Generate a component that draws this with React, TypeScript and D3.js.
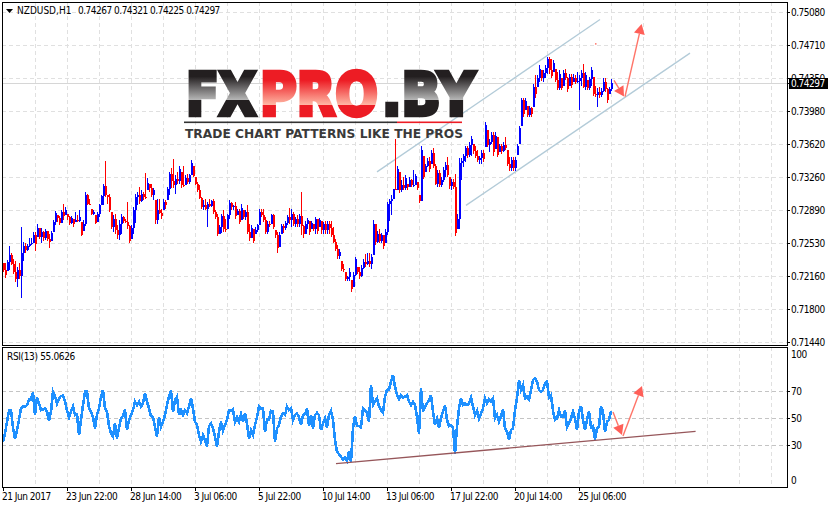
import React from 'react';
import * as d3 from 'd3';

// hourly bars, prices in 1/10000
const highs = [
  7232,7231,7235,7250,7243,7236,7234,7227,7232,7271,
  7255,7253,7252,7259,7259,7266,7266,7274,7270,7270,
  7267,7269,7267,7263,7267,7279,7289,7284,7283,7290,
  7296,7293,7285,7283,7283,7280,7288,7284,7290,7277,
  7279,7310,7308,7302,7291,7290,7284,7288,7297,7307,
  7319,7344,7306,7308,7288,7284,7286,7273,7279,7285,
  7283,7280,7299,7273,7273,7293,7308,7310,7315,7312,
  7310,7331,7325,7319,7319,7314,7301,7302,7302,7291,
  7302,7301,7315,7332,7336,7346,7328,7332,7339,7332,
  7338,7328,7330,7330,7345,7338,7326,7321,7317,7304,
  7301,7302,7299,7302,7301,7302,7290,7286,7273,7285,
  7290,7280,7286,7301,7299,7295,7299,7291,7291,7296,
  7290,7290,7295,7275,7273,7269,7271,7275,7291,7291,
  7291,7282,7278,7278,7286,7286,7268,7266,7266,7275,
  7274,7278,7284,7292,7291,7288,7282,7284,7285,7310,
  7273,7278,7281,7278,7278,7275,7282,7280,7281,7278,
  7277,7278,7278,7278,7278,7271,7258,7251,7247,7234,
  7230,7221,7217,7226,7213,7221,7238,7227,7227,7229,
  7236,7241,7243,7243,7241,7279,7275,7267,7269,7265,
  7262,7269,7299,7302,7306,7313,7368,7339,7332,7323,
  7326,7328,7319,7326,7324,7334,7330,7321,7306,7361,
  7350,7341,7347,7348,7356,7358,7341,7334,7334,7326,
  7337,7343,7348,7326,7324,7324,7330,7286,7347,7347,
  7352,7361,7361,7365,7372,7363,7360,7356,7350,7356,
  7356,7387,7378,7368,7376,7376,7376,7371,7363,7363,
  7365,7371,7356,7348,7348,7348,7348,7363,7383,7414,
  7414,7414,7405,7405,7404,7429,7439,7439,7450,7444,
  7444,7450,7459,7459,7457,7455,7446,7442,7444,7435,
  7444,7445,7437,7440,7440,7440,7439,7442,7439,7444,
  7451,7442,7433,7437,7448,7437,7427,7424,7426,7424,
  7435,7435,7424,7426,7434,
];
const lows = [
  7221,7215,7223,7224,7229,7219,7210,7205,7214,7193,
  7234,7243,7245,7249,7251,7253,7245,7260,7258,7253,
  7256,7257,7256,7248,7256,7266,7273,7277,7273,7276,
  7279,7284,7279,7273,7275,7271,7277,7277,7277,7261,
  7267,7272,7295,7295,7284,7284,7274,7277,7282,7295,
  7295,7304,7296,7288,7269,7266,7264,7258,7257,7264,
  7276,7276,7269,7253,7258,7264,7276,7295,7297,7299,
  7301,7302,7312,7310,7304,7301,7275,7275,7286,7280,
  7290,7291,7301,7306,7314,7314,7308,7319,7319,7314,
  7315,7317,7319,7319,7328,7326,7317,7310,7302,7291,
  7290,7290,7271,7293,7293,7286,7280,7261,7264,7265,
  7266,7266,7269,7280,7290,7290,7280,7284,7274,7279,
  7280,7279,7264,7256,7259,7253,7264,7266,7273,7282,
  7277,7264,7264,7271,7275,7269,7259,7243,7249,7263,
  7265,7268,7273,7275,7271,7272,7271,7271,7271,7262,
  7259,7264,7269,7262,7269,7267,7264,7264,7271,7264,
  7263,7264,7264,7264,7260,7253,7245,7236,7236,7223,
  7221,7212,7212,7212,7200,7205,7217,7219,7214,7216,
  7225,7227,7229,7227,7225,7240,7251,7254,7253,7254,
  7247,7253,7262,7278,7284,7302,7312,7312,7309,7310,
  7312,7312,7312,7315,7315,7315,7317,7312,7298,7300,
  7324,7332,7337,7332,7341,7336,7317,7315,7315,7315,
  7321,7326,7326,7313,7312,7313,7261,7269,7269,7323,
  7337,7343,7347,7348,7350,7352,7347,7343,7341,7341,
  7343,7359,7359,7354,7363,7350,7357,7348,7354,7352,
  7354,7356,7339,7333,7333,7333,7333,7351,7363,7383,
  7392,7400,7392,7392,7393,7404,7414,7426,7431,7432,
  7431,7435,7440,7440,7435,7442,7431,7422,7422,7422,
  7427,7433,7420,7427,7424,7431,7429,7430,7400,7427,
  7424,7422,7422,7422,7427,7416,7415,7404,7414,7415,
  7420,7420,7408,7418,7421,
];
const closes = [
  7224,7218,7233,7240,7230,7222,7214,7224,7217,7243,
  7250,7246,7250,7252,7254,7262,7252,7270,7260,7266,
  7259,7267,7258,7255,7265,7277,7287,7281,7276,7288,
  7283,7290,7282,7276,7281,7274,7279,7278,7282,7262,
  7275,7306,7297,7296,7286,7288,7276,7286,7295,7305,
  7316,7306,7304,7290,7271,7280,7268,7262,7275,7282,
  7278,7277,7272,7256,7270,7290,7304,7307,7300,7308,
  7304,7303,7320,7314,7306,7312,7279,7290,7287,7283,
  7299,7295,7313,7330,7322,7317,7324,7322,7335,7318,
  7316,7325,7321,7328,7342,7327,7319,7312,7303,7293,
  7295,7291,7297,7294,7300,7288,7282,7263,7271,7283,
  7269,7268,7284,7298,7293,7294,7283,7289,7277,7292,
  7282,7288,7266,7259,7270,7256,7268,7273,7288,7284,
  7279,7266,7275,7273,7284,7271,7262,7248,7262,7272,
  7270,7276,7282,7279,7285,7275,7280,7274,7283,7272,
  7264,7275,7279,7266,7276,7269,7280,7267,7279,7268,
  7275,7268,7274,7270,7262,7255,7247,7239,7244,7225,
  7224,7214,7216,7222,7203,7218,7236,7222,7217,7226,
  7233,7230,7234,7230,7238,7274,7255,7264,7256,7262,
  7250,7266,7296,7300,7302,7313,7312,7335,7312,7318,
  7314,7325,7315,7323,7317,7318,7327,7314,7300,7356,
  7326,7338,7344,7335,7353,7339,7319,7331,7318,7323,
  7334,7340,7329,7316,7321,7315,7265,7280,7342,7344,
  7349,7358,7351,7362,7368,7355,7349,7345,7347,7353,
  7346,7384,7362,7365,7373,7354,7372,7351,7360,7355,
  7362,7358,7341,7336,7345,7336,7345,7360,7380,7411,
  7396,7410,7395,7402,7396,7426,7418,7436,7446,7435,
  7441,7447,7456,7444,7438,7452,7433,7425,7440,7425,
  7441,7436,7423,7437,7428,7436,7431,7432,7436,7441,
  7426,7439,7425,7434,7444,7418,7417,7420,7417,7421,
  7431,7423,7411,7423,7430,
];
const rsi = [
  32.6,38.8,47.4,55.6,56,43,35,41,49,57.4,
  58.6,58.6,59.8,64,64,69,52.4,65.5,61,56,
  56.6,57.4,55,48,55,69.8,66.5,61,64.8,66.5,
  67,62.3,56,50.7,55,58.6,52.4,53,37.5,48.7,
  59.8,69.8,69.8,57.4,55,51,42.5,52.4,57.4,66,
  71,57.4,54.9,44.2,38.8,36.3,46.2,35,42.5,49.9,
  51.6,56.6,41.2,48.7,52.4,56,62.3,59.8,62.3,58.6,
  61,68.5,62.3,57.4,51.6,50.7,43.7,36.3,51,43.7,
  47.4,52.4,59.8,66,70.5,54.9,63.6,66,52.4,56,
  52.4,56,53.6,58.6,64.8,57.4,47.4,45,37.5,32.6,
  37.5,33.8,28.8,44.2,46.2,42.5,36.3,28.8,40,47.4,
  40.7,45,48.7,55.6,55.6,56.6,47.4,50.7,47.4,53,
  47.4,53.6,46.2,35,41.2,37.5,45,50.7,59,57.4,
  57.4,40,49,49,55.6,54.9,32.6,42.5,45,51.2,
  53.6,52.4,58.6,56,57.4,48.7,52.4,53.6,50.7,45,
  52.4,53,57.4,44.2,52.4,42.5,52.4,54,52.4,41.2,
  46.2,49.9,43.2,52.4,55.6,48.7,33.8,25.1,23.4,21.4,
  19.4,20.9,18.4,25.1,17.7,42.5,51.6,44.2,44.2,43.2,
  57.4,56,54,47.4,74.7,59.8,62.3,64.8,59,56,
  54,66,71,71.5,77.2,82.2,73.5,67.3,64,67.3,
  65.5,66,67.3,62.3,59.8,62.3,59.8,51,38.3,72.2,
  54.9,58.6,61,63.6,67.3,54.9,45,49.9,43.2,49.9,
  54.9,59.8,48.7,44.2,45,43.2,23.4,43.7,57.4,64.8,
  59.8,61,59.8,61,65.5,58.6,52.4,55.6,49.9,53.6,
  57.4,64.8,61,64,62.3,64.8,49.9,52.4,47.4,51.6,
  56.6,42.5,40,34.3,41.2,42.5,56,64.8,78.4,71,
  74.7,64.8,66,64,71,78.4,79.7,77.2,71,69.8,
  71,76,77.2,65.5,67.3,55.6,48.7,49.9,56,51,
  51,55.6,43.2,46.2,49.9,54.9,49.9,41.2,54.9,59,
  48.7,41.7,48.7,55.4,43.2,44.2,34.3,42.5,43.7,58.6,
  54.9,40,47.4,48.7,55.1,
];

const priceTicks = ['0.75080','0.74710','0.74350','0.73980','0.73620','0.73260','0.72890','0.72530','0.72160','0.71800','0.71440'];
const rsiTicks = [70, 50, 30];
const timeLabels = ['21 Jun 2017','23 Jun 22:00','28 Jun 14:00','3 Jul 06:00','5 Jul 22:00','10 Jul 14:00','13 Jul 06:00','17 Jul 22:00','20 Jul 14:00','25 Jul 06:00'];

// drawn objects, as [bar number, price] or [bar number, rsi]
const channelUpper = [[187, 7332], [298.5, 7500]];
const channelLower = [[231.5, 7295], [343.5, 7463]];
const rsiTrend = [[166.5, 16.2], [346.3, 40.3]];
const priceArrows = [[[305.5, 7433], [310.5, 7415]], [[311, 7415], [319.3, 7495]]];
const rsiArrows = [[[305, 54.6], [309.5, 37.5]], [[310, 36.8], [319.5, 74]]];
const strayDot = [296, 7474];

const W = 829;
const H = 508;
const left = 2;
const right = 787;
const mainTop = 2;
const mainBottom = 345;
const rsiTop = 347;
const rsiBottom = 487;
const uiFont = "'DejaVu Sans Condensed', 'DejaVu Sans', sans-serif";
const uiSize = 10;
const uiSpacing = -0.5;

const x = d3.scaleLinear().domain([0, 304]).range([3, 611]);
const y = d3.scaleLinear().domain([7144, 7508]).range([342.3, 12.3]);
const yRsi = d3.scaleLinear().domain([0, 100]).range([485.5, 351]);
const yGrid = d3.scalePoint<string>().domain(priceTicks).range([12, 342]);

const gridX = d3.range(16, 385, 16);
const labelBars = d3.range(0, 289, 32);

const bars = highs.map((h, i) => {
  const l = lows[i];
  const o = i === 0 ? h : Math.min(h, Math.max(l, closes[i - 1]));
  return { i, h, l, o, c: closes[i] };
});

const barColor = (o: number, c: number) => (c > o ? '#0000ff' : c < o ? '#ff0000' : '#000000');

const rsiLine = d3.line<number>().x((_, i) => x(i)).y((d) => yRsi(d));

function Arrow({ from, to, yScale }: { from: number[]; to: number[]; yScale: (v: number) => number }) {
  const x1 = x(from[0]);
  const y1 = yScale(from[1]);
  const x2 = x(to[0]);
  const y2 = yScale(to[1]);
  const len = Math.hypot(x2 - x1, y2 - y1);
  const ux = (x2 - x1) / len;
  const uy = (y2 - y1) / len;
  const bx = x2 - ux * 10;
  const by = y2 - uy * 10;
  const pts = [[x2, y2], [bx - uy * 5.5, by + ux * 5.5], [bx + uy * 5.5, by - ux * 5.5]];
  return (
    <g>
      <line x1={x1} y1={y1} x2={bx} y2={by} stroke="#ff7468" strokeWidth={1.4} />
      <polygon points={pts.map((p) => p.join(',')).join(' ')} fill="#ff5f58" />
    </g>
  );
}

export default function App() {
  return (
    <svg width={W} height={H} style={{ position: 'absolute', left: 0, top: 0, display: 'block', background: '#fff' }}>
      <defs>
        <linearGradient id="darkFill" x1="0" y1="71" x2="0" y2="117" gradientUnits="userSpaceOnUse">
          <stop offset="0.12" stopColor="#231f20" />
          <stop offset="0.62" stopColor="#b4b4b4" />
          <stop offset="0.63" stopColor="#231f20" />
          <stop offset="1" stopColor="#231f20" />
        </linearGradient>
        <linearGradient id="redFill" x1="0" y1="71" x2="0" y2="117" gradientUnits="userSpaceOnUse">
          <stop offset="0.2" stopColor="#ed1c24" />
          <stop offset="0.74" stopColor="#ffb9a6" />
          <stop offset="0.75" stopColor="#ed1c24" />
          <stop offset="1" stopColor="#ed1c24" />
        </linearGradient>
      </defs>

      {/* grid */}
      <g stroke="#e0e0e0" strokeDasharray="4 3" shapeRendering="crispEdges">
        {gridX.map((b) => (
          <g key={b}>
            <line x1={x(b)} x2={x(b)} y1={mainTop} y2={mainBottom} />
            <line x1={x(b)} x2={x(b)} y1={rsiTop} y2={rsiBottom} />
          </g>
        ))}
        {priceTicks.map((t) => (
          <line key={t} x1={left} x2={right} y1={yGrid(t)} y2={yGrid(t)} />
        ))}
      </g>
      <g stroke="#c4c4c4" strokeDasharray="4 3" shapeRendering="crispEdges">
        {rsiTicks.map((t) => (
          <line key={t} x1={left} x2={right} y1={Math.round(yRsi(t))} y2={Math.round(yRsi(t))} />
        ))}
      </g>
      <line x1={left} x2={right} y1={Math.round(y(closes[304]))} y2={Math.round(y(closes[304]))} stroke="#d6d6d6" shapeRendering="crispEdges" />

      {/* channel, goes under the logo */}
      <g stroke="#b3cbd8" strokeWidth={1.3}>
        {[channelUpper, channelLower].map((c, k) => (
          <line key={k} x1={x(c[0][0])} y1={y(c[0][1])} x2={x(c[1][0])} y2={y(c[1][1])} />
        ))}
      </g>

      {/* logo */}
      <g fontFamily="'DejaVu Sans', sans-serif" fontWeight="bold" fontSize={58} strokeWidth={4.4}>
        <text x={186} y={114.5} textLength={70} lengthAdjust="spacingAndGlyphs" fill="url(#darkFill)" stroke="url(#darkFill)">FX</text>
        <text x={260} y={114.5} textLength={118} lengthAdjust="spacingAndGlyphs" fill="url(#redFill)" stroke="url(#redFill)">PRO</text>
        <text x={382} y={114.5} textLength={93} lengthAdjust="spacingAndGlyphs" fill="url(#darkFill)" stroke="url(#darkFill)">.BY</text>
      </g>
      <rect x={184} y={121.5} width={213} height={1.6} fill="#333" />
      <rect x={397} y={121.5} width={65} height={1.6} fill="#ed1c24" />
      <text x={185} y={138} textLength={278} lengthAdjust="spacingAndGlyphs" fontFamily="'DejaVu Sans', sans-serif" fontWeight="bold" fontSize={13} fill="#3a3a3a">TRADE CHART PATTERNS LIKE THE PROS</text>

      {/* price bars: thin stem high to low, 2px body open to close */}
      <g shapeRendering="crispEdges">
        {bars.map((b) => {
          const xb = Math.round(x(b.i));
          const col = barColor(b.o, b.c);
          const top = Math.round(y(Math.max(b.o, b.c)));
          const bottom = Math.round(y(Math.min(b.o, b.c)));
          return (
            <g key={b.i} fill={col}>
              <rect x={xb} y={Math.round(y(b.h))} width={1} height={Math.max(1, Math.round(y(b.l)) - Math.round(y(b.h)))} />
              <rect x={xb} y={top} width={2} height={Math.max(1, bottom - top)} />
            </g>
          );
        })}
      </g>

      <rect x={x(strayDot[0])} y={y(strayDot[1])} width={1.5} height={1.5} fill="#ff7468" />
      {priceArrows.map((a, k) => <Arrow key={k} from={a[0]} to={a[1]} yScale={y} />)}

      {/* rsi */}
      <path d={rsiLine(rsi) ?? ''} fill="none" stroke="#1e90ff" strokeWidth={2.6} strokeLinejoin="miter" shapeRendering="crispEdges" />
      <line x1={x(rsiTrend[0][0])} y1={yRsi(rsiTrend[0][1])} x2={x(rsiTrend[1][0])} y2={yRsi(rsiTrend[1][1])} stroke="#96565a" strokeWidth={1.3} />
      {rsiArrows.map((a, k) => <Arrow key={k} from={a[0]} to={a[1]} yScale={yRsi} />)}

      {/* frames */}
      <g fill="none" stroke="#000" shapeRendering="crispEdges">
        <rect x={left} y={mainTop} width={right - left} height={mainBottom - mainTop} />
        <rect x={left} y={rsiTop} width={right - left} height={rsiBottom - rsiTop} />
      </g>

      {/* right axis */}
      <g fontFamily={uiFont} fontSize={uiSize} letterSpacing={uiSpacing} fill="#000">
        {priceTicks.map((t) => (
          <g key={t}>
            <line x1={right} x2={right + 3} y1={yGrid(t)} y2={yGrid(t)} stroke="#000" shapeRendering="crispEdges" />
            <text x={791} y={(yGrid(t) ?? 0) + 4}>{t}</text>
          </g>
        ))}
        {rsiTicks.map((t) => (
          <g key={t}>
            <line x1={right} x2={right + 3} y1={Math.round(yRsi(t))} y2={Math.round(yRsi(t))} stroke="#000" shapeRendering="crispEdges" />
            <text x={791} y={yRsi(t) + 4}>{t}</text>
          </g>
        ))}
        <text x={791} y={358}>100</text>
        <text x={791} y={484}>0</text>
      </g>
      <rect x={789} y={78} width={39} height={11} fill="#000" />
      <line x1={right} x2={right + 3} y1={83} y2={83} stroke="#000" shapeRendering="crispEdges" />
      <text x={791} y={87} fontFamily={uiFont} fontSize={uiSize} letterSpacing={uiSpacing} fill="#fff">0.74297</text>

      {/* time axis */}
      <g fontFamily={uiFont} fontSize={uiSize} letterSpacing={uiSpacing} fill="#000">
        {labelBars.map((b, k) => (
          <g key={b}>
            <line x1={Math.round(x(b))} x2={Math.round(x(b))} y1={rsiBottom} y2={rsiBottom + 4} stroke="#000" shapeRendering="crispEdges" />
            <text x={Math.round(x(b)) - 1} y={500}>{timeLabels[k]}</text>
          </g>
        ))}
      </g>

      {/* captions */}
      <path d="M6,9 L13,9 L9.5,13 Z" fill="#000" />
      <text x={17} y={14} fontFamily={uiFont} fontSize={uiSize} fill="#000">
        <tspan letterSpacing={0}>NZDUSD,H1</tspan>
        <tspan x={78} letterSpacing={uiSpacing}>0.74267 0.74321 0.74225 0.74297</tspan>
      </text>
      <text x={7} y={360} fontFamily={uiFont} fontSize={uiSize} letterSpacing={-0.35} fill="#000">RSI(13) 55.0626</text>
    </svg>
  );
}
